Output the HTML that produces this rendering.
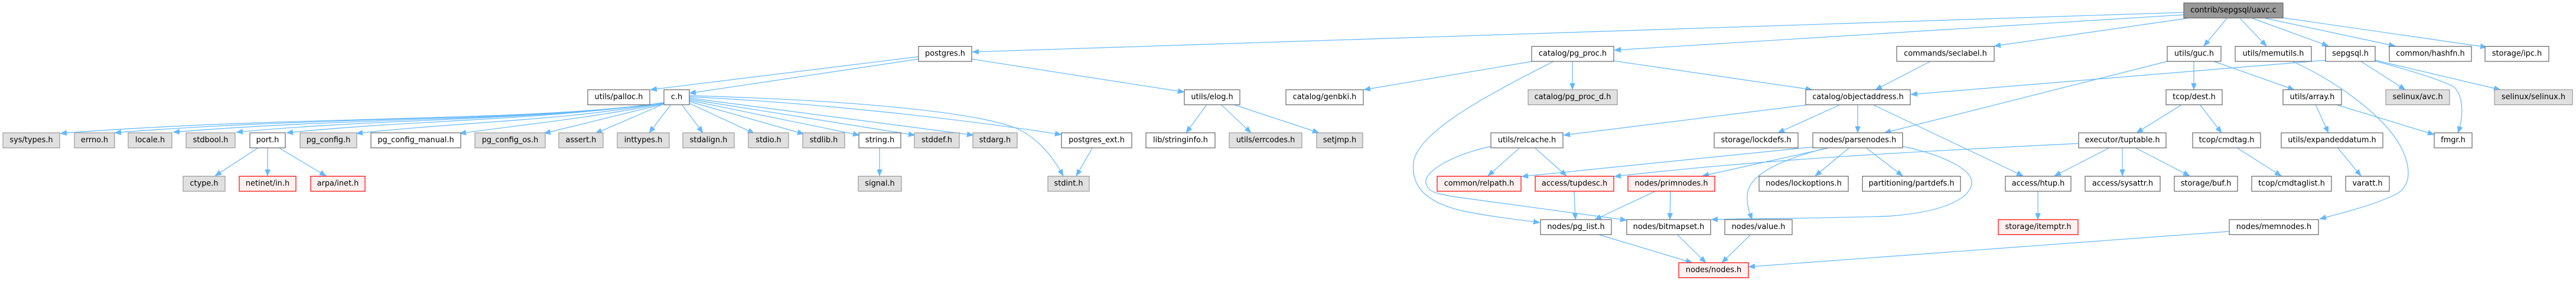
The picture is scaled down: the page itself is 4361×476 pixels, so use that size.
<!DOCTYPE html>
<html><head><meta charset="utf-8"><style>
html,body{margin:0;padding:0;background:#fff;}
svg{display:block;}
text{font-family:"DejaVu Sans","Liberation Sans",sans-serif;font-size:12.9px;fill:#000;text-anchor:middle;}
.w{fill:#fff;stroke:#666;stroke-width:1.2;}
.g{fill:#e0e0e0;stroke:#999;stroke-width:1.2;}
.r{fill:#fff0f0;stroke:#f00;stroke-width:1.2;}
.root{fill:#999;stroke:#666;stroke-width:1.2;}
.e{fill:none;stroke:#63b8ff;stroke-width:1.2;marker-end:url(#ah);}
</style></head><body>
<svg width="4361" height="476" viewBox="0 0 4361 476" xmlns="http://www.w3.org/2000/svg">
<defs><marker id="ah" markerUnits="userSpaceOnUse" markerWidth="12" markerHeight="9" refX="11" refY="4.5" orient="auto"><path d="M0,0 L11,4.5 L0,9 z" fill="#63b8ff" stroke="#63b8ff" stroke-width="0.5"/></marker></defs>

<!-- edges -->
<g>
<path class="e" d="M3697,21 L1646,88"/>
<path class="e" d="M3697,25 L2733,85"/>
<path class="e" d="M3703,31 L3376,78"/>
<path class="e" d="M3770,31 L3731,78"/>
<path class="e" d="M3792,31 L3837,78"/>
<path class="e" d="M3813,31 L3942,78"/>
<path class="e" d="M3835,31 L4055,78"/>
<path class="e" d="M3864,30 L4210,80"/>

<path class="e" d="M1555,96 L1101,152"/>
<path class="e" d="M1555,100 L1167,158"/>
<path class="e" d="M1645,100 L2005,156"/>
<path class="e" d="M2043,177 L2008,225"/>
<path class="e" d="M2067,177 L2118,225"/>
<path class="e" d="M2088,177 L2233,225"/>

<path class="e" d="M2594,104 L2309,152"/>
<path class="e" d="M2662,104 L2662,152"/>
<path class="e" d="M2731,103 L3068,152"/>
<path class="e" d="M2630,104 C2540,150 2400,220 2393,275 C2388,320 2420,345 2480,358 C2530,368 2570,372 2607,377"/>

<path class="e" d="M3057,178 L2647,229"/>
<path class="e" d="M3116,177 L3010,225"/>
<path class="e" d="M3145,177 L3145,225"/>
<path class="e" d="M3170,177 L3425,298"/>
<path class="e" d="M3268,104 L3175,152"/>
<path class="e" d="M3937,102 L3235,160"/>
<path class="e" d="M3997,104 L4072,152"/>
<path class="e" d="M4020,103 C4090,122 4140,138 4155,148 C4172,165 4170,200 4161,225"/>
<path class="e" d="M4021,102 L4233,152"/>

<path class="e" d="M3669,104 L3190,225"/>
<path class="e" d="M3714,104 L3714,152"/>
<path class="e" d="M3748,104 L3884,152"/>
<path class="e" d="M3881,104 C3960,140 4040,200 4065,250 C4085,290 4080,320 4050,332 C4010,350 3960,362 3927,371"/>

<path class="e" d="M3694,177 L3617,225"/>
<path class="e" d="M3724,177 L3761,225"/>
<path class="e" d="M3920,177 L3942,225"/>
<path class="e" d="M3954,177 L4121,228"/>
<path class="e" d="M3958,251 L3997,298"/>
<path class="e" d="M3788,251 L3862,298"/>

<path class="e" d="M3570,251 L3478,298"/>
<path class="e" d="M3593,251 L3593,298"/>
<path class="e" d="M3616,251 L3707,298"/>
<path class="e" d="M3519,243 C3300,254 3000,268 2733,299"/>
<path class="e" d="M3450,324 L3450,372"/>

<path class="e" d="M3069,249 L2576,299"/>
<path class="e" d="M3094,251 L2882,298"/>
<path class="e" d="M3087,252 C3000,275 2960,300 2958,330 C2957,350 2962,360 2966,372"/>
<path class="e" d="M3130,251 L3073,298"/>
<path class="e" d="M3160,251 L3221,298"/>
<path class="e" d="M3221,248 C3280,260 3340,285 3338,310 C3335,340 3280,360 3200,366 C3100,370 2950,370 2897,372"/>

<path class="e" d="M2572,251 L2519,298"/>
<path class="e" d="M2599,251 L2652,298"/>
<path class="e" d="M2524,248 C2460,262 2410,290 2414,310 C2418,326 2430,327 2460,333 L2754,373"/>

<path class="e" d="M2665,324 L2667,372"/>
<path class="e" d="M2802,324 L2700,372"/>
<path class="e" d="M2828,324 L2827,372"/>
<path class="e" d="M2705,397 L2865,445"/>
<path class="e" d="M2839,397 L2888,445"/>
<path class="e" d="M2964,397 L2915,445"/>
<path class="e" d="M3774,392 L2960,452"/>

<!-- c.h right fan -->
<path class="e" d="M1136,177 L1099,225"/>
<path class="e" d="M1154,177 L1190,225"/>
<path class="e" d="M1167,175 L1277,226"/>
<path class="e" d="M1167,172 L1361,227"/>
<path class="e" d="M1167,170 L1455,229"/>
<path class="e" d="M1167,168 L1549,229"/>
<path class="e" d="M1167,166 L1648,229"/>
<path class="e" d="M1167,164 C1400,175 1650,205 1797,228"/>
<path class="e" d="M1167,162 C1450,170 1650,190 1720,217 C1760,235 1785,270 1800,298"/>
<!-- c.h left fan -->
<path class="e" d="M1124,176 L1008,226"/>
<path class="e" d="M1124,176 L921,226"/>
<path class="e" d="M1124,175 C1000,200 880,212 778,226"/>
<path class="e" d="M1124,174 C950,205 800,205 603,226"/>
<path class="e" d="M1124,174 C900,205 700,203 485,225"/>
<path class="e" d="M1124,174 C900,205 650,200 400,224"/>
<path class="e" d="M1124,174 C900,206 600,198 293,224"/>
<path class="e" d="M1124,174 C900,206 550,196 194,225"/>
<path class="e" d="M1124,174 C900,207 500,195 102,226"/>

<path class="e" d="M1489,251 L1489,298"/>
<path class="e" d="M436,251 L364,298"/>
<path class="e" d="M453,251 L453,298"/>
<path class="e" d="M473,251 L552,298"/>
<path class="e" d="M1849,251 L1822,298"/>
</g>

<!-- nodes -->
<g>
<rect class="root" x="3697" y="5" width="168" height="25.5"/><text x="3781" y="21">contrib/sepgsql/uavc.c</text>

<rect class="w" x="1555" y="78.5" width="90" height="25.5"/><text x="1600" y="94.5">postgres.h</text>
<rect class="w" x="2593" y="78.5" width="139" height="25.5"/><text x="2662.5" y="94.5">catalog/pg_proc.h</text>
<rect class="w" x="3211" y="78.5" width="165" height="25.5"/><text x="3293.5" y="94.5">commands/seclabel.h</text>
<rect class="w" x="3669" y="78.5" width="91" height="25.5"/><text x="3714.5" y="94.5">utils/guc.h</text>
<rect class="w" x="3784" y="78.5" width="129" height="25.5"/><text x="3848.5" y="94.5">utils/memutils.h</text>
<rect class="w" x="3937" y="78.5" width="84" height="25.5"/><text x="3979" y="94.5">sepgsql.h</text>
<rect class="w" x="4045" y="78.5" width="139" height="25.5"/><text x="4114.5" y="94.5">common/hashfn.h</text>
<rect class="w" x="4207" y="78.5" width="108" height="25.5"/><text x="4261" y="94.5">storage/ipc.h</text>

<rect class="w" x="995" y="152" width="105" height="25.5"/><text x="1047.5" y="168">utils/palloc.h</text>
<rect class="w" x="1124" y="152" width="43" height="25.5"/><text x="1145.5" y="168">c.h</text>
<rect class="w" x="2005" y="152" width="94" height="25.5"/><text x="2052" y="168">utils/elog.h</text>
<rect class="w" x="2177" y="152" width="131" height="25.5"/><text x="2242.5" y="168">catalog/genbki.h</text>
<rect class="g" x="2587" y="152" width="151" height="25.5"/><text x="2662.5" y="168">catalog/pg_proc_d.h</text>
<rect class="w" x="3057" y="152" width="177" height="25.5"/><text x="3145.5" y="168">catalog/objectaddress.h</text>
<rect class="w" x="3667" y="152" width="95" height="25.5"/><text x="3714.5" y="168">tcop/dest.h</text>
<rect class="w" x="3865" y="152" width="99" height="25.5"/><text x="3914.5" y="168">utils/array.h</text>
<rect class="g" x="4039" y="152" width="108" height="25.5"/><text x="4093" y="168">selinux/avc.h</text>
<rect class="g" x="4223" y="152" width="132" height="25.5"/><text x="4289" y="168">selinux/selinux.h</text>

<rect class="g" x="5" y="225" width="96" height="25.5"/><text x="53" y="241">sys/types.h</text>
<rect class="g" x="126" y="225" width="68" height="25.5"/><text x="160" y="241">errno.h</text>
<rect class="g" x="217" y="225" width="74" height="25.5"/><text x="254" y="241">locale.h</text>
<rect class="g" x="315" y="225" width="83" height="25.5"/><text x="356.5" y="241">stdbool.h</text>
<rect class="w" x="423" y="225" width="60" height="25.5"/><text x="453" y="241">port.h</text>
<rect class="g" x="508" y="225" width="96" height="25.5"/><text x="556" y="241">pg_config.h</text>
<rect class="w" x="628" y="225" width="152" height="25.5"/><text x="704" y="241">pg_config_manual.h</text>
<rect class="g" x="804" y="225" width="119" height="25.5"/><text x="863.5" y="241">pg_config_os.h</text>
<rect class="g" x="946" y="225" width="75" height="25.5"/><text x="983.5" y="241">assert.h</text>
<rect class="g" x="1045" y="225" width="88" height="25.5"/><text x="1089" y="241">inttypes.h</text>
<rect class="g" x="1156" y="225" width="87" height="25.5"/><text x="1199.5" y="241">stdalign.h</text>
<rect class="g" x="1267" y="225" width="68" height="25.5"/><text x="1301" y="241">stdio.h</text>
<rect class="g" x="1359" y="225" width="71" height="25.5"/><text x="1394.5" y="241">stdlib.h</text>
<rect class="w" x="1454" y="225" width="71" height="25.5"/><text x="1489.5" y="241">string.h</text>
<rect class="g" x="1548" y="225" width="76" height="25.5"/><text x="1586" y="241">stddef.h</text>
<rect class="g" x="1647" y="225" width="75" height="25.5"/><text x="1684.5" y="241">stdarg.h</text>
<rect class="w" x="1797" y="225" width="119" height="25.5"/><text x="1856.5" y="241">postgres_ext.h</text>
<rect class="w" x="1940" y="225" width="117" height="25.5"/><text x="1998.5" y="241">lib/stringinfo.h</text>
<rect class="g" x="2081" y="225" width="123" height="25.5"/><text x="2142.5" y="241">utils/errcodes.h</text>
<rect class="g" x="2229" y="225" width="78" height="25.5"/><text x="2268" y="241">setjmp.h</text>
<rect class="w" x="2524" y="225" width="122" height="25.5"/><text x="2585" y="241">utils/relcache.h</text>
<rect class="w" x="2902" y="225" width="142" height="25.5"/><text x="2973" y="241">storage/lockdefs.h</text>
<rect class="w" x="3069" y="225" width="152" height="25.5"/><text x="3145" y="241">nodes/parsenodes.h</text>
<rect class="w" x="3519" y="225" width="148" height="25.5"/><text x="3593" y="241">executor/tuptable.h</text>
<rect class="w" x="3712" y="225" width="115" height="25.5"/><text x="3769.5" y="241">tcop/cmdtag.h</text>
<rect class="w" x="3862" y="225" width="172" height="25.5"/><text x="3948" y="241">utils/expandeddatum.h</text>
<rect class="w" x="4121" y="225" width="64" height="25.5"/><text x="4153" y="241">fmgr.h</text>

<rect class="g" x="310" y="298.5" width="71" height="25.5"/><text x="345.5" y="314.5">ctype.h</text>
<rect class="r" x="405" y="298.5" width="96" height="25.5"/><text x="453" y="314.5">netinet/in.h</text>
<rect class="r" x="526" y="298.5" width="92" height="25.5"/><text x="572" y="314.5">arpa/inet.h</text>
<rect class="g" x="1453" y="298.5" width="73" height="25.5"/><text x="1489.5" y="314.5">signal.h</text>
<rect class="g" x="1774" y="298.5" width="70" height="25.5"/><text x="1809" y="314.5">stdint.h</text>
<rect class="r" x="2433" y="298.5" width="142" height="25.5"/><text x="2504" y="314.5">common/relpath.h</text>
<rect class="r" x="2599" y="298.5" width="133" height="25.5"/><text x="2665.5" y="314.5">access/tupdesc.h</text>
<rect class="r" x="2756" y="298.5" width="147" height="25.5"/><text x="2829.5" y="314.5">nodes/primnodes.h</text>
<rect class="w" x="2978" y="298.5" width="151" height="25.5"/><text x="3053.5" y="314.5">nodes/lockoptions.h</text>
<rect class="w" x="3153" y="298.5" width="166" height="25.5"/><text x="3236" y="314.5">partitioning/partdefs.h</text>
<rect class="w" x="3395" y="298.5" width="111" height="25.5"/><text x="3450.5" y="314.5">access/htup.h</text>
<rect class="w" x="3530" y="298.5" width="127" height="25.5"/><text x="3593.5" y="314.5">access/sysattr.h</text>
<rect class="w" x="3681" y="298.5" width="107" height="25.5"/><text x="3734.5" y="314.5">storage/buf.h</text>
<rect class="w" x="3812" y="298.5" width="135" height="25.5"/><text x="3879.5" y="314.5">tcop/cmdtaglist.h</text>
<rect class="w" x="3971" y="298.5" width="74" height="25.5"/><text x="4008" y="314.5">varatt.h</text>

<rect class="w" x="2608" y="372" width="120" height="25.5"/><text x="2668" y="388">nodes/pg_list.h</text>
<rect class="w" x="2754" y="372" width="142" height="25.5"/><text x="2825" y="388">nodes/bitmapset.h</text>
<rect class="w" x="2920" y="372" width="114" height="25.5"/><text x="2977" y="388">nodes/value.h</text>
<rect class="r" x="3383" y="372" width="135" height="25.5"/><text x="3450.5" y="388">storage/itemptr.h</text>
<rect class="w" x="3774" y="372" width="151" height="25.5"/><text x="3849.5" y="388">nodes/memnodes.h</text>

<rect class="r" x="2842" y="445" width="118" height="25.5"/><text x="2901" y="461">nodes/nodes.h</text>
</g>
</svg>
</body></html>
